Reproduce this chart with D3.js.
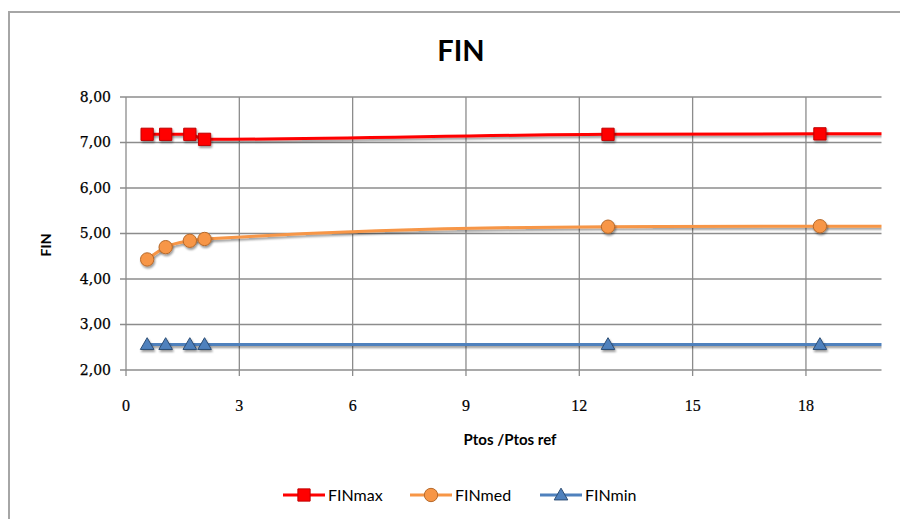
<!DOCTYPE html>
<html><head><meta charset="utf-8">
<script src="https://cdn.jsdelivr.net/npm/d3@7"></script>
<style>body{margin:0;background:#fff}svg{display:block}</style>
</head><body>
<svg id="c" width="900" height="519"></svg>
<script>
// Data (last point lies beyond the visible x range, the lines run off the right edge)
const xValues  = [0.56, 1.05, 1.69, 2.08, 12.76, 18.37, 24];
const finMax   = [7.18, 7.18, 7.18, 7.07, 7.18, 7.19, 7.20];
const finMed   = [4.43, 4.70, 4.84, 4.88, 5.15, 5.16, 5.16];
const finMin   = [2.56, 2.56, 2.56, 2.56, 2.56, 2.56, 2.56];
const seriesNames = ["FINmax", "FINmed", "FINmin"];
const xTicks = [0, 3, 6, 9, 12, 15, 18];
const yTicks = [2, 3, 4, 5, 6, 7, 8];
const visibleCount = 6;

const svg = d3.select("#c");
const W = 900, H = 519;
const L = 126, R = 881.5, T = 97, B = 370;
const x = d3.scaleLinear().domain([0, 20]).range([L, R]);
const y = d3.scaleLinear().domain([2, 8]).range([B, T]);

// Frame
svg.append("rect").attr("x", 9).attr("y", 12).attr("width", W + 20).attr("height", H + 20)
  .attr("fill", "#fff").attr("stroke", "#a6a6a6").attr("stroke-width", 2);

const defs = svg.append("defs");
const clip = defs.append("clipPath").attr("id", "pa");
clip.append("rect").attr("x", L).attr("y", T - 20).attr("width", R - L).attr("height", B - T + 40);
function shadow(id, attrs) {
  const f = defs.append("filter").attr("id", id);
  Object.entries(attrs).forEach(([k, v]) => f.attr(k, v));
  f.append("feGaussianBlur").attr("in", "SourceAlpha").attr("stdDeviation", 1.3);
  f.append("feOffset").attr("dx", 1).attr("dy", 2).attr("result", "ob");
  f.append("feComponentTransfer").append("feFuncA").attr("type", "linear").attr("slope", 0.4);
  const fm = f.append("feMerge");
  fm.append("feMergeNode"); fm.append("feMergeNode").attr("in", "SourceGraphic");
}
shadow("shL", {filterUnits: "userSpaceOnUse", x: 0, y: 0, width: W, height: H});
shadow("shM", {x: "-60%", y: "-60%", width: "220%", height: "220%"});

const gridColor = "#8c8c8c";
svg.append("g").selectAll("line").data(yTicks).join("line")
  .attr("x1", L - 6).attr("x2", R).attr("y1", d => y(d)).attr("y2", d => y(d))
  .attr("stroke", gridColor).attr("stroke-width", 1.3);
svg.append("g").selectAll("line").data(xTicks).join("line")
  .attr("x1", d => x(d)).attr("x2", d => x(d)).attr("y1", T).attr("y2", B + 6)
  .attr("stroke", gridColor).attr("stroke-width", 1.3);

// Tick labels
const fmt = d => d3.format(".2f")(d).replace(".", ",");
svg.append("g").selectAll("text").data(yTicks).join("text")
  .attr("x", L - 15).attr("y", d => y(d)).attr("dy", "0.35em").attr("text-anchor", "end")
  .attr("font-family", "'DejaVu Serif', serif").attr("font-size", 14).attr("fill", "#000")
  .attr("stroke", "#000").attr("stroke-width", 0.25)
  .text(fmt);
svg.append("g").selectAll("text").data(xTicks).join("text")
  .attr("x", d => x(d)).attr("y", 405).attr("dy", "0.35em").attr("text-anchor", "middle")
  .attr("font-family", "'Liberation Serif', serif").attr("font-size", 16).attr("fill", "#000")
  .attr("stroke", "#000").attr("stroke-width", 0.2)
  .text(d => d);

// Titles
svg.append("text").attr("x", 461).attr("y", 61).attr("text-anchor", "middle")
  .attr("font-family", "Lato, sans-serif").attr("font-weight", "bold").attr("font-size", 29)
  .attr("fill", "#000").text("FIN");
svg.append("text").attr("x", 510).attr("y", 445).attr("text-anchor", "middle")
  .attr("font-family", "Lato, sans-serif").attr("font-weight", "bold").attr("font-size", 15)
  .attr("fill", "#000").text("Ptos /Ptos ref");
svg.append("text").attr("transform", "translate(51,245) rotate(-90)").attr("text-anchor", "middle")
  .attr("font-family", "Lato, sans-serif").attr("font-weight", "bold").attr("font-size", 14)
  .attr("fill", "#000").text("FIN");

const styles = [
  {data: finMax, line: "#ff0000", fill: "#ff0000", stroke: "#c00000", sym: d3.symbolSquare, size: 150},
  {data: finMed, line: "#f79646", fill: "#f79646", stroke: "#b66a2c", sym: d3.symbolCircle, size: 140},
  {data: finMin, line: "#4f81bd", fill: "#4f81bd", stroke: "#2c4d75", sym: d3.symbolTriangle, size: 80}
];

const plot = svg.append("g").attr("clip-path", "url(#pa)");
styles.forEach((s, i) => {
  const pts = xValues.map((xv, j) => [xv, s.data[j]]);
  const line = d3.line().x(d => x(d[0])).y(d => y(d[1])).curve(d3.curveMonotoneX);
  plot.append("path").datum(pts).attr("d", line).attr("fill", "none")
    .attr("stroke", s.line).attr("stroke-width", 3).attr("filter", "url(#shL)");
});
styles.forEach((s, i) => {
  const pts = xValues.slice(0, visibleCount).map((xv, j) => [xv, s.data[j]]);
  plot.append("g").selectAll("path").data(pts).join("path")
    .attr("transform", d => `translate(${x(d[0])},${y(d[1]) + (s.sym === d3.symbolTriangle ? 1 : 0)})`)
    .attr("d", d3.symbol().type(s.sym).size(s.size))
    .attr("fill", s.fill).attr("stroke", s.stroke).attr("stroke-width", 1)
    .attr("filter", "url(#shM)");
});

// Legend
const legX = [283, 410, 540];
const legY = 495;
styles.forEach((s, i) => {
  const g = svg.append("g").attr("transform", `translate(${legX[i]},${legY})`);
  g.append("line").attr("x1", 0).attr("x2", 42).attr("y1", 0).attr("y2", 0)
    .attr("stroke", s.line).attr("stroke-width", 3);
  g.append("path").attr("transform", `translate(21,${s.sym === d3.symbolTriangle ? 1 : 0})`)
    .attr("d", d3.symbol().type(s.sym).size(s.size))
    .attr("fill", s.fill).attr("stroke", s.stroke).attr("stroke-width", 1);
  g.append("text").attr("x", 45).attr("y", 0).attr("dy", "0.35em")
    .attr("font-family", "Lato, sans-serif").attr("font-size", 16).attr("fill", "#000")
    .text(seriesNames[i]);
});
</script>
</body></html>
